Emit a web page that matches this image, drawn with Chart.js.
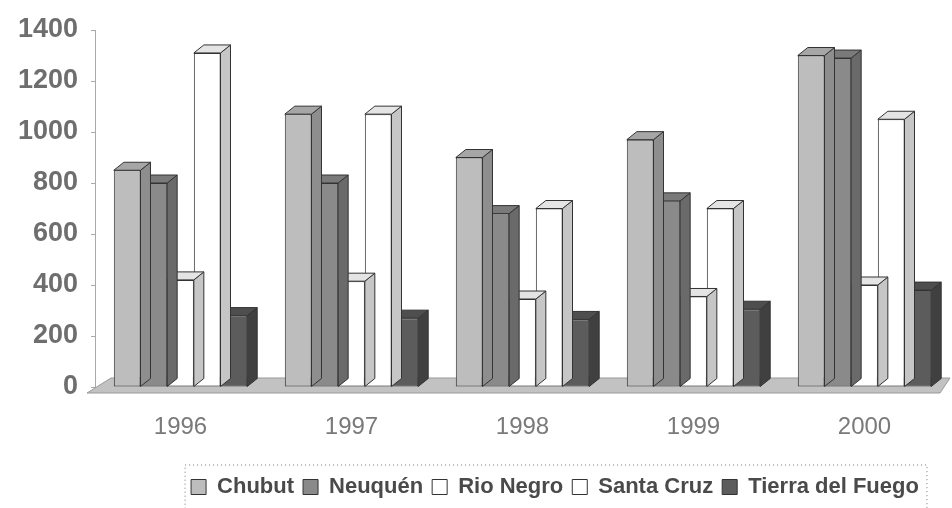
<!DOCTYPE html>
<html>
<head>
<meta charset="utf-8">
<script src="https://cdn.jsdelivr.net/npm/chart.js@4.4.0/dist/chart.umd.min.js"></script>
<style>
  html, body { margin: 0; padding: 0; background: #fff; }
  #wrap { width: 952px; height: 508px; }
</style>
</head>
<body>
<div id="wrap"><canvas id="chart"></canvas></div>
<script>
const years = ['1996', '1997', '1998', '1999', '2000'];
const chubut = [850, 1070, 900, 970, 1300];
const neuquen = [800, 800, 680, 730, 1290];
const rioNegro = [420, 415, 345, 355, 400];
const santaCruz = [1310, 1070, 700, 700, 1050];
const tierraDelFuego = [280, 270, 265, 305, 380];
const yTicks = [0, 200, 400, 600, 800, 1000, 1200, 1400];

// front / side / top shades for each province
const shades = [
  { front: '#bdbdbd', side: '#8e8e8e', top: '#a6a6a6' },
  { front: '#8a8a8a', side: '#6a6a6a', top: '#7a7a7a' },
  { front: '#ffffff', side: '#c6c6c6', top: '#e4e4e4' },
  { front: '#ffffff', side: '#c6c6c6', top: '#e4e4e4' },
  { front: '#5c5c5c', side: '#404040', top: '#4e4e4e' }
];
const DX = 10, DY = 8;

// floor slab, then side and top faces under each dataset's front faces
const depthPlugin = {
  id: 'depth',
  beforeDatasetsDraw(chart) {
    const ctx = chart.ctx;
    const { left, right } = chart.chartArea;
    const y0 = chart.scales.y.getPixelForValue(0);
    ctx.save();
    ctx.beginPath();
    ctx.moveTo(left - 8, y0 + 6);
    ctx.lineTo(right - 10, y0 + 6);
    ctx.lineTo(right, y0 - 9);
    ctx.lineTo(left + 16, y0 - 9);
    ctx.closePath();
    ctx.fillStyle = '#c2c2c2';
    ctx.fill();
    ctx.strokeStyle = '#999';
    ctx.lineWidth = 1;
    ctx.stroke();
    ctx.restore();
  },
  beforeDatasetDraw(chart, args) {
    const ctx = chart.ctx;
    const s = shades[args.index];
    ctx.save();
    ctx.strokeStyle = '#333';
    ctx.lineWidth = 1;
    args.meta.data.forEach(bar => {
      const { x, y, base, width } = bar.getProps(['x', 'y', 'base', 'width'], true);
      const l = x - width / 2, r = x + width / 2;
      ctx.beginPath();
      ctx.moveTo(r, y);
      ctx.lineTo(r + DX, y - DY);
      ctx.lineTo(r + DX, base - DY);
      ctx.lineTo(r, base);
      ctx.closePath();
      ctx.fillStyle = s.side;
      ctx.fill();
      ctx.stroke();
      ctx.beginPath();
      ctx.moveTo(l, y);
      ctx.lineTo(l + DX, y - DY);
      ctx.lineTo(r + DX, y - DY);
      ctx.lineTo(r, y);
      ctx.closePath();
      ctx.fillStyle = s.top;
      ctx.fill();
      ctx.stroke();
    });
    ctx.restore();
  }
};

// legend sits a little right of centre, in a dotted frame
const legendFrame = {
  id: 'legendFrame',
  afterLayout(chart) {
    chart.legend.left += 80;
    chart.legend.right += 80;
  },
  afterDraw(chart) {
    const boxes = chart.legend.legendHitBoxes;
    if (!boxes || !boxes.length) return;
    const first = boxes[0], last = boxes[boxes.length - 1];
    const ctx = chart.ctx;
    ctx.save();
    ctx.setLineDash([1, 3]);
    ctx.strokeStyle = '#777';
    ctx.lineWidth = 1;
    ctx.strokeRect(first.left - 6, first.top - 11, last.left + last.width - first.left + 14, first.height + 30);
    ctx.restore();
  }
};

const names = ['Chubut', 'Neuquén', 'Rio Negro', 'Santa Cruz', 'Tierra del Fuego'];
const series = [chubut, neuquen, rioNegro, santaCruz, tierraDelFuego];

new Chart(document.getElementById('chart'), {
  type: 'bar',
  data: {
    labels: years,
    datasets: series.map((vals, i) => ({
      label: names[i],
      data: vals,
      backgroundColor: shades[i].front,
      borderColor: '#333',
      borderWidth: 1,
      borderSkipped: false,
      categoryPercentage: 0.78,
      barPercentage: 1.0
    }))
  },
  options: {
    responsive: true,
    maintainAspectRatio: false,
    animation: false,
    layout: { padding: { top: 30, right: 2, left: 0, bottom: 0 } },
    plugins: {
      tooltip: { enabled: false },
      legend: {
        position: 'bottom',
        labels: {
          color: '#4a4a4a',
          font: { family: 'Liberation Sans', size: 22, weight: 'bold' },
          boxWidth: 15,
          boxHeight: 15,
          padding: 9
        }
      }
    },
    scales: {
      x: {
        afterFit(axis) { axis.height = 80; },
        grid: { display: false },
        border: { display: false },
        ticks: {
          color: '#7a7a7a',
          padding: 18,
          font: { family: 'Liberation Sans', size: 24 }
        }
      },
      y: {
        min: 0,
        max: 1400,
        afterFit(axis) { axis.width = 95; },
        afterBuildTicks(axis) { axis.ticks = yTicks.map(v => ({ value: v })); },
        grid: { drawOnChartArea: false, tickLength: 4, color: '#aaa' },
        border: { color: '#aaa', dash: [1, 3] },
        ticks: {
          color: '#6e6e6e',
          padding: 13,
          callback: v => String(v),
          font: { family: 'Liberation Sans', size: 27, weight: 'bold' }
        }
      }
    }
  },
  plugins: [depthPlugin, legendFrame]
});
</script>
</body>
</html>
